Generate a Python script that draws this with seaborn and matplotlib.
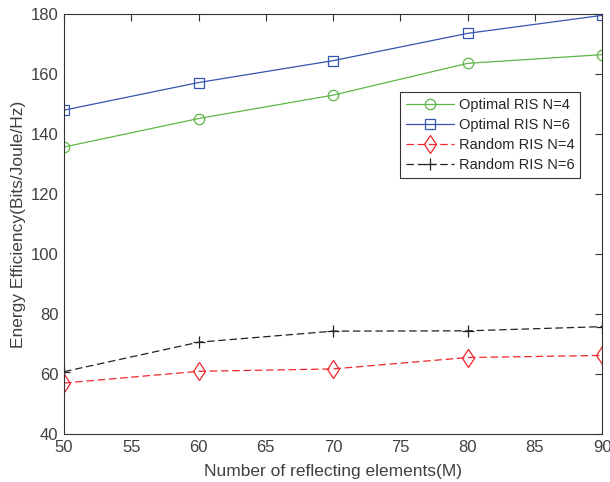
import matplotlib
matplotlib.use("Agg")
import matplotlib.pyplot as plt
import seaborn as sns
import pandas as pd

M = [50, 60, 70, 80, 90]
opt_n4 = [135.7, 145.2, 153.0, 163.6, 166.5]
opt_n6 = [148.0, 157.2, 164.5, 173.6, 179.6]
rnd_n4 = [57.0, 60.9, 61.7, 65.5, 66.2]
rnd_n6 = [60.8, 70.6, 74.3, 74.4, 75.8]
labels = ["Optimal RIS N=4", "Optimal RIS N=6", "Random RIS N=4", "Random RIS N=6"]
colors = ["#5cb746", "#3455b0", "#f0262a", "#222222"]
markers = ["o", "s", "d", "+"]
msizes = [7.5, 7, 9.5, 9]
dashes = [None, None, (6, 3), (6, 3)]

sns.set_theme(style="white")
plt.rcParams['font.family'] = ['Liberation Sans', 'DejaVu Sans']

rows = []
for lab, vals in zip(labels, [opt_n4, opt_n6, rnd_n4, rnd_n6]):
    for m, v in zip(M, vals):
        rows.append({"M": m, "EE": v, "Scheme": lab})
df = pd.DataFrame(rows)

fig = plt.figure(figsize=(6.1, 4.82), dpi=100)
ax = fig.add_axes([0.105, 0.0996, 0.882, 0.871])

txt = "#404040"
for lab, c, mk, ms, ds in zip(labels, colors, markers, msizes, dashes):
    sub = df[df["Scheme"] == lab]
    sns.lineplot(data=sub, x="M", y="EE", ax=ax, color=c, marker=mk, dashes=False,
                 linewidth=0.9, markersize=ms,
                 markerfacecolor="none", markeredgecolor=c, markeredgewidth=0.9,
                 label=lab)
    if ds is not None:
        ax.lines[-1].set_dashes(ds)

ax.set_xlim(50, 90)
ax.set_ylim(40, 180)
ax.set_xticks(range(50, 91, 5))
ax.set_yticks(range(40, 181, 20))
ax.tick_params(direction="in", top=True, right=True, length=5, width=0.8,
               colors="#333333", labelsize=12, labelcolor=txt, pad=4)
for s in ax.spines.values():
    s.set_color("#333333")
    s.set_linewidth(0.8)
ax.set_xlabel("Number of reflecting elements(M)", fontsize=12.5, color=txt, labelpad=7)
ax.set_ylabel("Energy Efficiency(Bits/Joule/Hz)", fontsize=12.5, color=txt, labelpad=3)

leg = ax.legend(loc="upper right", bbox_to_anchor=(0.959, 0.814), fontsize=10.5,
                frameon=True, fancybox=False, edgecolor="#333333", framealpha=1,
                borderpad=0.4, labelspacing=0.42, handlelength=3.3, handletextpad=0.3,
                borderaxespad=0)
leg.get_frame().set_linewidth(0.8)
for t in leg.get_texts():
    t.set_color("#262626")

fig.savefig("out.png", dpi=100)
